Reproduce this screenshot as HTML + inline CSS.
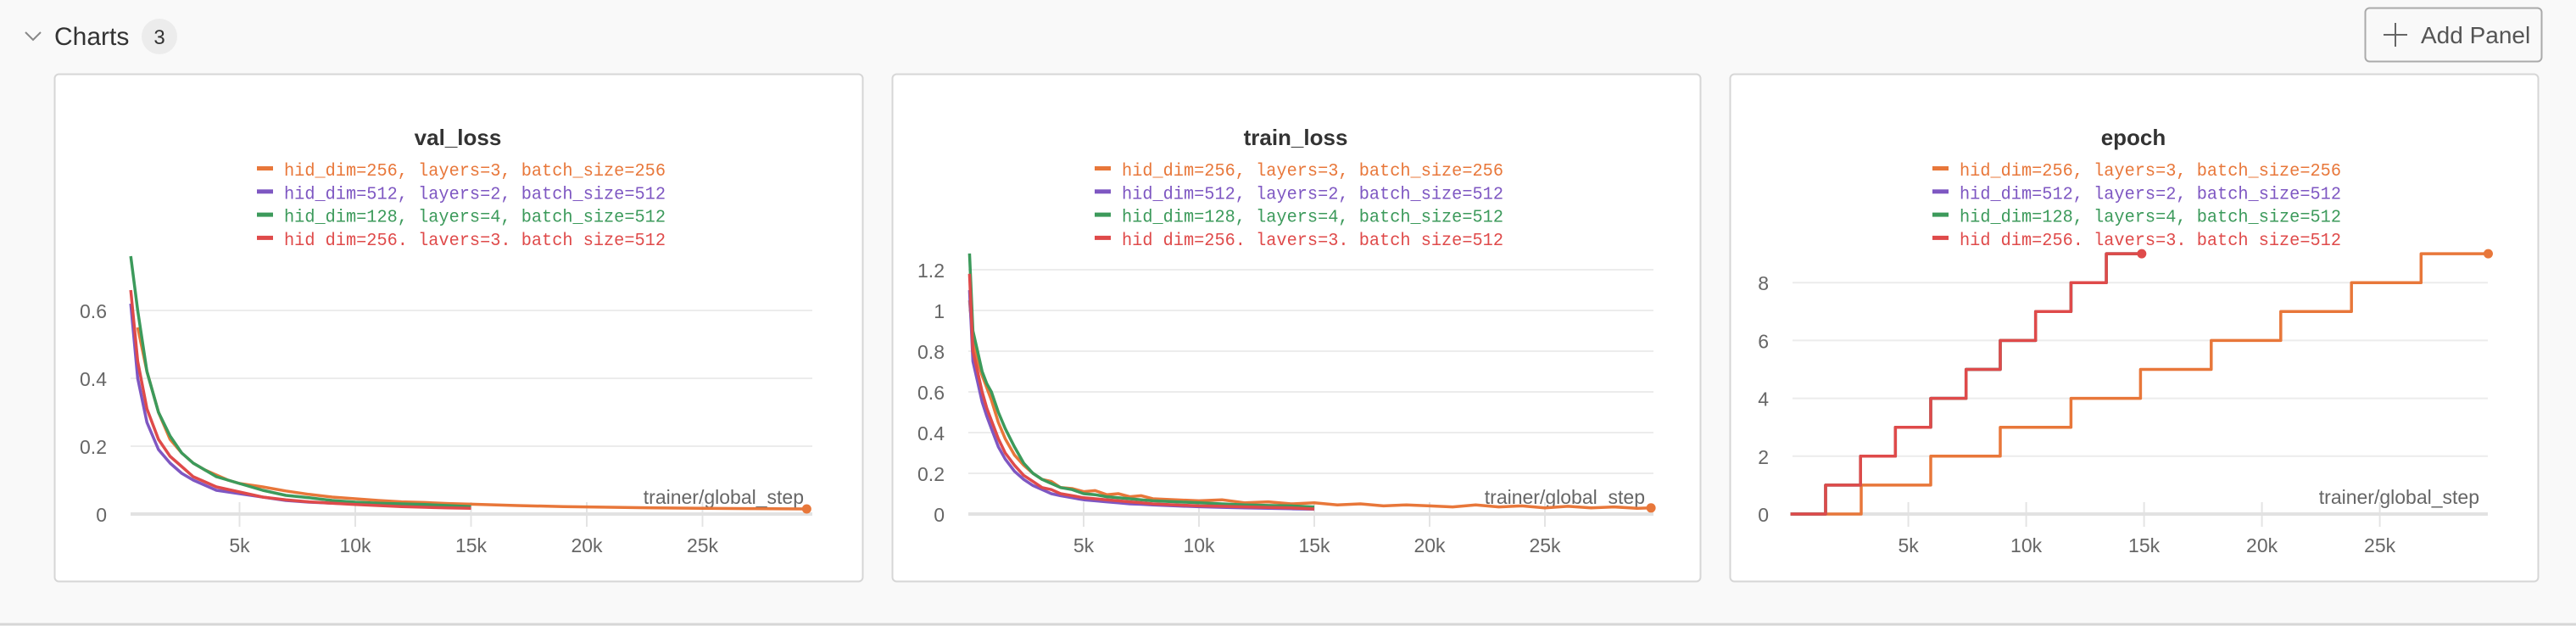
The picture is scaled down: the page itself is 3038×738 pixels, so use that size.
<!DOCTYPE html>
<html><head><meta charset="utf-8">
<style>
html,body{margin:0;padding:0;background:#f9f9f9;width:3038px;height:738px;overflow:hidden}
svg{display:block}
text{font-family:"Liberation Sans Narrow","Liberation Sans",sans-serif}
.mono{font-family:"Liberation Mono",monospace}
</style></head>
<body>
<svg id="root" width="3038" height="738" viewBox="0 0 3038 738" xmlns="http://www.w3.org/2000/svg">
  <rect x="0" y="0" width="3038" height="738" fill="#f9f9f9"/>
  <line x1="0" y1="736" x2="3038" y2="736" stroke="#d6d6d6" stroke-width="3"/>
  <path d="M30 38 L39 47 L48 38" fill="none" stroke="#888" stroke-width="2"/>
  <text x="64" y="53" font-size="30" fill="#333">Charts</text>
  <circle cx="188" cy="43" r="21" fill="#ececec"/>
  <text x="188" y="52" font-size="24" fill="#333" text-anchor="middle">3</text>
  <g>
    <rect x="2789.5" y="9.5" width="208" height="63" rx="5" fill="#f9f9f9" stroke="#aaa" stroke-width="2"/>
    <line x1="2811" y1="41" x2="2839" y2="41" stroke="#666" stroke-width="2"/>
    <line x1="2825" y1="27" x2="2825" y2="55" stroke="#666" stroke-width="2"/>
    <text x="2855" y="51" font-size="28" fill="#555">Add Panel</text>
  </g>
  <g id="panels"></g>
</svg>
<script>
// ---------- data (x in thousands of steps) ----------
const legendLabels = ["hid_dim=256, layers=3, batch_size=256","hid_dim=512, layers=2, batch_size=512","hid_dim=128, layers=4, batch_size=512","hid dim=256. lavers=3. batch size=512"];
const seriesColors = ["#e8773a","#7e57c2","#3c9a5b","#df4a4a"];

const valXOrange = [0.6,1,1.5,2,2.5,3,3.5,4,4.5,5,6,7,8,9,10,11,12,13,14,15,17,19,21,23,25,27,29.5];
const valYOrange = [0.55,0.42,0.3,0.22,0.18,0.15,0.13,0.115,0.1,0.09,0.08,0.068,0.058,0.05,0.045,0.04,0.036,0.034,0.031,0.029,0.025,0.022,0.02,0.018,0.017,0.016,0.015];
const valX512 = [0.3,0.6,1,1.5,2,2.5,3,3.5,4,5,6,7,8,9,10,11,12,13,14,15];
const valYPurple = [0.62,0.4,0.27,0.19,0.15,0.12,0.1,0.085,0.07,0.06,0.05,0.04,0.035,0.032,0.03,0.028,0.025,0.022,0.02,0.018];
const valYGreen = [0.76,0.6,0.42,0.3,0.23,0.18,0.15,0.13,0.11,0.09,0.07,0.055,0.048,0.04,0.035,0.032,0.03,0.028,0.025,0.022];
const valYRed = [0.66,0.45,0.31,0.22,0.17,0.14,0.11,0.095,0.08,0.065,0.05,0.042,0.036,0.032,0.028,0.025,0.022,0.02,0.018,0.017];

const trainXOrange = [0.05,0.2,0.4,0.6,0.8,1,1.3,1.6,2,2.4,2.8,3.2,3.6,4,4.5,5,5.5,6,6.5,7,7.5,8,9,10,11,12,13,14,15,16,17,18,19,20,21,22,23,24,25,26,27,28,29,29.6];
const trainYOrange = [1.05,0.85,0.75,0.68,0.62,0.56,0.45,0.37,0.29,0.24,0.2,0.17,0.16,0.13,0.125,0.11,0.115,0.095,0.1,0.085,0.09,0.075,0.07,0.065,0.07,0.055,0.06,0.05,0.055,0.045,0.05,0.04,0.045,0.04,0.035,0.045,0.035,0.04,0.03,0.038,0.03,0.035,0.028,0.03];
const trainX512 = [0.05,0.2,0.4,0.6,0.8,1,1.3,1.6,2,2.4,2.8,3.2,3.6,4,4.5,5,5.5,6,6.5,7,7.5,8,9,10,11,12,13,14,15];
const trainYGreen = [1.28,0.9,0.8,0.7,0.64,0.6,0.5,0.42,0.33,0.25,0.2,0.17,0.15,0.13,0.12,0.1,0.095,0.085,0.08,0.075,0.07,0.065,0.06,0.055,0.05,0.045,0.042,0.04,0.035];
const trainYRed = [1.18,0.8,0.7,0.6,0.52,0.46,0.37,0.3,0.24,0.19,0.16,0.13,0.12,0.1,0.09,0.08,0.075,0.07,0.065,0.06,0.055,0.05,0.045,0.04,0.038,0.035,0.032,0.03,0.025];
const trainYPurple = [1.1,0.75,0.65,0.55,0.48,0.42,0.33,0.27,0.21,0.17,0.14,0.12,0.1,0.09,0.08,0.07,0.065,0.06,0.055,0.05,0.048,0.045,0.04,0.036,0.033,0.03,0.028,0.026,0.024];

const epochStartsOrange = [0,3,5.95,8.9,11.9,14.85,17.85,20.8,23.8,26.75];
const epochEndOrange = 29.6;
const epochStarts512 = [0,1.49,2.97,4.45,5.95,7.45,8.9,10.4,11.9,13.4];
const epochEnd512 = 14.9;

const xTickValues = [5,10,15,20,25];
const xTickLabels = ["5k","10k","15k","20k","25k"];
const valYTicks = [0,0.2,0.4,0.6];
const valYTickLabels = ["0","0.2","0.4","0.6"];
const trainYTicks = [0,0.2,0.4,0.6,0.8,1,1.2];
const trainYTickLabels = ["0","0.2","0.4","0.6","0.8","1","1.2"];
const epochYTicks = [0,2,4,6,8];
const epochYTickLabels = ["0","2","4","6","8"];

// ---------- drawing ----------
const NS = "http://www.w3.org/2000/svg";
const root = document.getElementById("panels");
function mk(tag, attrs, parent){
  const e = document.createElementNS(NS, tag);
  for (const k in attrs) e.setAttribute(k, attrs[k]);
  (parent||root).appendChild(e);
  return e;
}
function stepPts(starts, end){
  const xs=[], ys=[];
  starts.forEach((s,i)=>{ xs.push(s); ys.push(i); const nx = i+1<starts.length?starts[i+1]:end; xs.push(nx); ys.push(i); });
  return [xs, ys];
}

function panel(cfg){
  const g = mk("g", {});
  
  
  mk("rect", {x:cfg.px+0.5, y:87.5, width:953, height:598, rx:5, fill:"#fff", stroke:"#d6d6d6", "stroke-width":2}, g);
  const t = mk("text", {x:cfg.px+476, y:171, "font-size":26, "font-weight":"bold", fill:"#333", "text-anchor":"middle"}, g);
  t.textContent = cfg.title;
  
  
  const lg = mk("g", {}, g);
  
  
  legendLabels.forEach((lab,i)=>{
    const cy = 199 + i*27.3;
    const lx = cfg.px + 239;
    const ent = mk("g", {}, lg);
    
    
    mk("rect", {x:lx, y:cy-3, width:19, height:5, fill:seriesColors[i]}, ent);
    const tx = mk("text", {x:lx+32, y:cy+8, "font-size":21, fill:seriesColors[i], class:"mono", textLength:450, lengthAdjust:"spacingAndGlyphs"}, ent);
    tx.textContent = lab;
  });
  const sx = v => cfg.x0 + v*cfg.pk;
  const sy = v => 606 - v*cfg.py;
  cfg.yTicks.forEach((v,i)=>{
    if (v!==0) {
      const gl = mk("line", {x1:cfg.left, x2:cfg.right, y1:sy(v), y2:sy(v), stroke:"#ececec", "stroke-width":2}, g);
      
      
    }
    const lt = mk("text", {x:cfg.left-28, y:sy(v)+9, "font-size":23, fill:"#666", "text-anchor":"end"}, g);
    lt.textContent = cfg.yLabels[i];
    
    
  });
  xTickValues.forEach((v,i)=>{
    mk("line", {x1:sx(v), x2:sx(v), y1:592, y2:621, stroke:"#e4e4e4", "stroke-width":2}, g);
    const lt = mk("text", {x:sx(v), y:651, "font-size":23, fill:"#666", "text-anchor":"middle"}, g);
    lt.textContent = xTickLabels[i];
    
    
  });
  const axis = mk("line", {x1:cfg.left, x2:cfg.right, y1:606, y2:606, stroke:"#e2e2e2", "stroke-width":4}, g);
  
  
  const xt = mk("text", {x:cfg.right-10, y:594, "font-size":23, fill:"#666", "text-anchor":"end"}, g);
  xt.textContent = "trainer/global_step";
  
  
  cfg.series.forEach(s=>{
    const d = s.xs.map((x,i)=>(i?"L":"M")+sx(x).toFixed(1)+" "+sy(s.ys[i]).toFixed(1)).join(" ");
    const p = mk("path", {d:d, fill:"none", stroke:seriesColors[s.c], "stroke-width":s.w||3.5, "stroke-linejoin":"round"}, g);
    
    
    if (s.dot) {
      const c = mk("circle", {cx:sx(s.xs[s.xs.length-1]), cy:sy(s.ys[s.ys.length-1]), r:5.5, fill:seriesColors[s.c]}, g);
      
      
    }
  });
}

const e512 = stepPts(epochStarts512, epochEnd512);
const eO = stepPts(epochStartsOrange, epochEndOrange);

panel({name:"val-loss", title:"val_loss", px:64, x0:146, pk:27.3, py:400, left:154, right:958,
  yTicks:valYTicks, yLabels:valYTickLabels,
  series:[
    {xs:valXOrange, ys:valYOrange, c:0, dot:true},
    {xs:valX512, ys:valYPurple, c:1},
    {xs:valX512, ys:valYGreen, c:2},
    {xs:valX512, ys:valYRed, c:3}
  ]});
panel({name:"train-loss", title:"train_loss", px:1052, x0:1142, pk:27.2, py:240, left:1142, right:1950,
  yTicks:trainYTicks, yLabels:trainYTickLabels,
  series:[
    {xs:trainXOrange, ys:trainYOrange, c:0, dot:true, w:3.5},
    {xs:trainX512, ys:trainYGreen, c:2, w:3.5},
    {xs:trainX512, ys:trainYPurple, c:1, w:3.5},
    {xs:trainX512, ys:trainYRed, c:3, w:3.5}
  ]});
panel({name:"epoch", title:"epoch", px:2040, x0:2111.6, pk:27.8, py:34.1, left:2114, right:2934,
  yTicks:epochYTicks, yLabels:epochYTickLabels,
  series:[
    {xs:eO[0], ys:eO[1], c:0, dot:true},
    {xs:e512[0], ys:e512[1], c:1},
    {xs:e512[0], ys:e512[1], c:2},
    {xs:e512[0], ys:e512[1], c:3, dot:true}
  ]});
</script>
</body></html>
